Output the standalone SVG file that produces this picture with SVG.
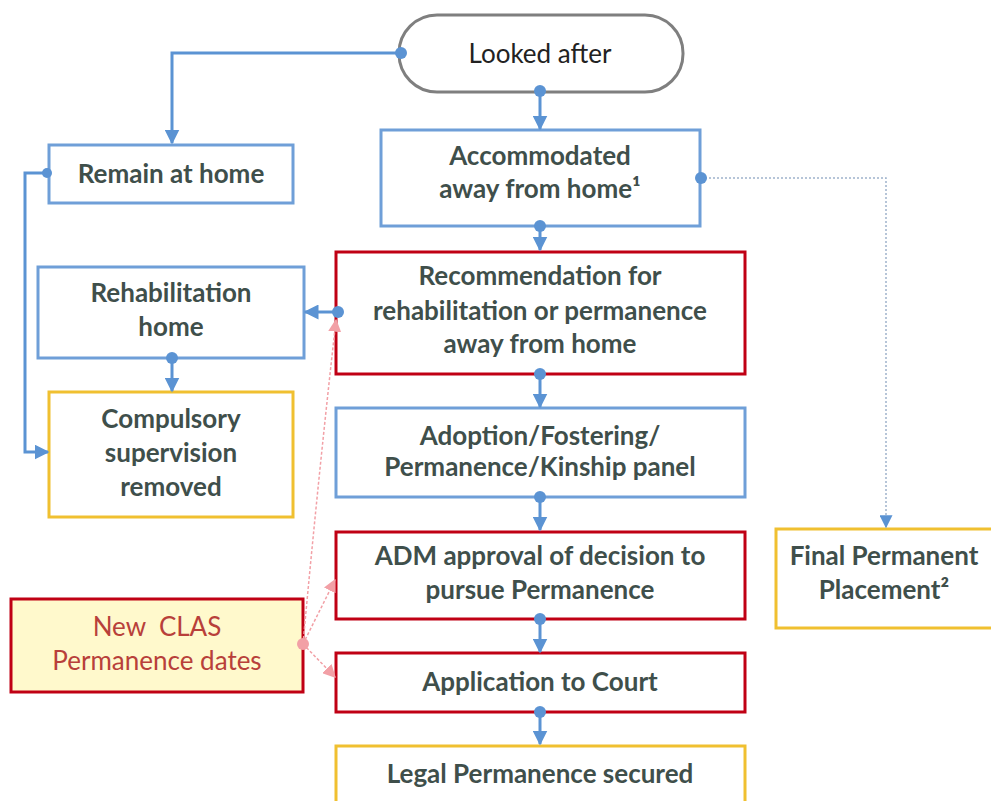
<svg xmlns="http://www.w3.org/2000/svg" width="991" height="801" viewBox="0 0 991 801">
<style>
.box{fill:#ffffff;stroke-width:3}
.blue{stroke:#6f9fd8}
.red{stroke:#c00014}
.yel{stroke:#f0c030}
.t{font-family:"Lato","Liberation Sans",sans-serif;font-weight:700;font-size:26px;fill:#3f4f4b;text-anchor:middle}
.n{font-family:"Lato","Liberation Sans",sans-serif;font-size:26px;text-anchor:middle;white-space:pre}
.c{fill:none;stroke:#5b93d3;stroke-width:3}
.dot{fill:#5b93d3}
.pk{fill:none;stroke:#f2a0a6;stroke-width:1.5;stroke-dasharray:3 2}
</style>
<defs>
<marker id="ab" viewBox="0 0 10 10" refX="9" refY="5" markerWidth="5" markerHeight="5" orient="auto" markerUnits="strokeWidth"><path d="M0,0 L10,5 L0,10 z" fill="#5b93d3"/></marker>
<marker id="ab2" viewBox="0 0 10 10" refX="9" refY="5" markerWidth="13" markerHeight="13" orient="auto" markerUnits="userSpaceOnUse"><path d="M0,0 L10,5 L0,10 z" fill="#5b93d3"/></marker>
<marker id="ap" viewBox="0 0 10 10" refX="9" refY="5" markerWidth="13" markerHeight="13" orient="auto" markerUnits="userSpaceOnUse"><path d="M0,0 L10,5 L0,10 z" fill="#f2a0a6"/></marker>
</defs>

<g id="looked-after">
<rect x="399" y="15" width="284" height="77" rx="38" ry="38" fill="#ffffff" stroke="#7f7f7f" stroke-width="3"/>
<text class="n" x="540" y="63" fill="#222">Looked after</text>
</g>

<g id="remain-at-home">
<rect class="box blue" x="49" y="145" width="244" height="58"/>
<text class="t" x="171" y="183">Remain at home</text>
</g>

<g id="accommodated">
<rect class="box blue" x="381" y="130" width="319" height="96"/>
<text class="t" x="540" y="165">Accommodated</text>
<text class="t" x="540" y="198">away from home¹</text>
</g>

<g id="rehabilitation-home">
<rect class="box blue" x="38" y="267" width="266" height="91"/>
<text class="t" x="171" y="302">Rehabilitation</text>
<text class="t" x="171" y="336">home</text>
</g>

<g id="recommendation">
<rect class="box red" x="336" y="252" width="409" height="122"/>
<text class="t" x="540" y="285">Recommendation for</text>
<text class="t" x="540" y="320">rehabilitation or permanence</text>
<text class="t" x="540" y="353">away from home</text>
</g>

<g id="compulsory-supervision">
<rect class="box yel" x="49" y="392" width="244" height="125"/>
<text class="t" x="171" y="428">Compulsory</text>
<text class="t" x="171" y="462">supervision</text>
<text class="t" x="171" y="496">removed</text>
</g>

<g id="panel">
<rect class="box blue" x="336" y="408" width="409" height="89"/>
<text class="t" x="540" y="445">Adoption/Fostering/</text>
<text class="t" x="540" y="476">Permanence/Kinship panel</text>
</g>

<g id="adm-approval">
<rect class="box red" x="336" y="532" width="409" height="87"/>
<text class="t" x="540" y="565">ADM approval of decision to</text>
<text class="t" x="540" y="599">pursue Permanence</text>
</g>

<g id="final-placement">
<rect class="box yel" x="776" y="529" width="218" height="99"/>
<text class="t" x="884" y="565">Final Permanent</text>
<text class="t" x="884" y="599">Placement²</text>
</g>

<g id="clas-dates">
<rect x="11" y="599" width="292" height="93" fill="#fff9cc" stroke="#c00014" stroke-width="3"/>
<text class="n" x="157" y="636" fill="#b8403a">New  CLAS</text>
<text class="n" x="157" y="670" fill="#b8403a">Permanence dates</text>
</g>

<g id="application-court">
<rect class="box red" x="336" y="653" width="409" height="59"/>
<text class="t" x="540" y="691">Application to Court</text>
</g>

<g id="legal-permanence">
<rect class="box yel" x="336" y="746" width="409" height="70"/>
<text class="t" x="540" y="783">Legal Permanence secured</text>
</g>

<g id="connectors">
<path class="c" d="M400,53 H172 V143" marker-end="url(#ab)"/>
<path class="c" d="M47,173 H25 V452 H48" marker-end="url(#ab)"/>
<path class="c" d="M540,91 V129" marker-end="url(#ab)"/>
<path class="c" d="M540,226 V250" marker-end="url(#ab)"/>
<path class="c" d="M540,374 V407" marker-end="url(#ab)"/>
<path class="c" d="M540,497 V530" marker-end="url(#ab)"/>
<path class="c" d="M540,619 V652" marker-end="url(#ab)"/>
<path class="c" d="M540,712 V744" marker-end="url(#ab)"/>
<path class="c" d="M337,312 H305" marker-end="url(#ab)"/>
<path class="c" d="M172,358 V391" marker-end="url(#ab)"/>
<path d="M701,178 H886 V527" fill="none" stroke="#9fb3cc" stroke-width="1.5" stroke-dasharray="2 2" marker-end="url(#ab2)"/>
<path class="pk" d="M303,644 Q318,480 336,320" marker-end="url(#ap)"/>
<path class="pk" d="M303,644 L335,580" marker-end="url(#ap)"/>
<path class="pk" d="M303,644 L335,677" marker-end="url(#ap)"/>
<circle class="dot" cx="401" cy="53" r="6"/>
<circle class="dot" cx="47" cy="173" r="5"/>
<circle class="dot" cx="540" cy="91" r="6"/>
<circle class="dot" cx="540" cy="226" r="6"/>
<circle class="dot" cx="540" cy="374" r="6"/>
<circle class="dot" cx="540" cy="497" r="6"/>
<circle class="dot" cx="540" cy="619" r="6"/>
<circle class="dot" cx="540" cy="712" r="6"/>
<circle class="dot" cx="338" cy="312" r="6"/>
<circle class="dot" cx="172" cy="358" r="6"/>
<circle class="dot" cx="701" cy="178" r="6"/>
<circle cx="303" cy="644" r="6" fill="#f2a0a6"/>
</g>
</svg>
